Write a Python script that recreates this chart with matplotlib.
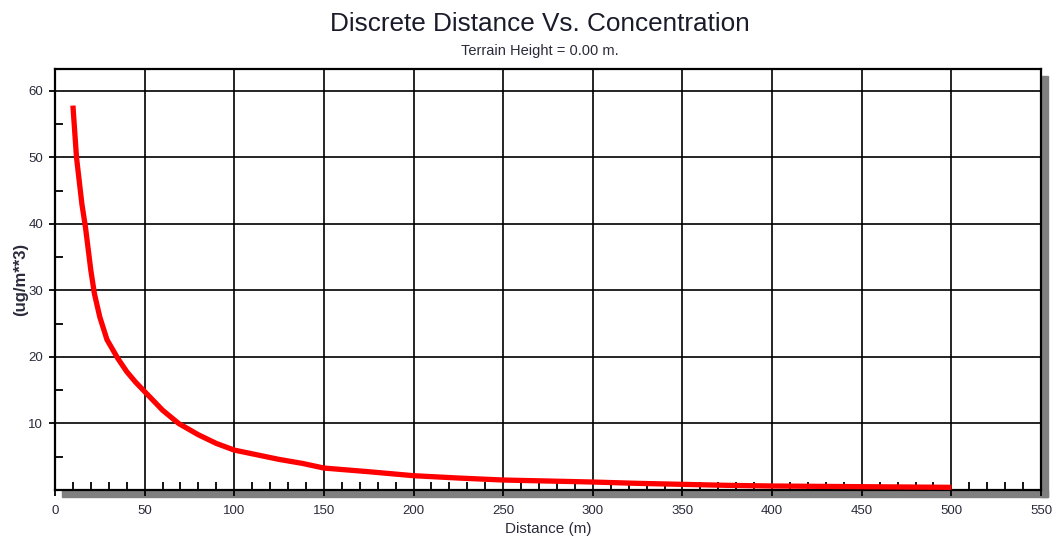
import matplotlib
matplotlib.use("Agg")
import matplotlib.pyplot as plt
from matplotlib.patches import Rectangle
from matplotlib.ticker import MultipleLocator

distance = [10, 12, 15, 17, 20, 22, 25, 29, 35, 40, 45, 50, 60, 69, 80, 90, 100,
            125, 138, 150, 175, 200, 225, 250, 275, 300, 325, 350, 375, 400,
            425, 450, 475, 500]
conc = [57.8, 50.0, 43.0, 39.5, 33.0, 29.5, 26.0, 22.6, 19.8, 17.8, 16.2, 14.8,
        12.0, 10.0, 8.3, 7.0, 6.0, 4.6, 4.0, 3.3, 2.75, 2.15, 1.8, 1.5, 1.35,
        1.2, 1.0, 0.85, 0.7, 0.6, 0.55, 0.5, 0.45, 0.4]
x_ticks = list(range(0, 551, 50))
y_ticks = [10, 20, 30, 40, 50, 60]

W, H = 1054, 538
plt.rcParams['font.family'] = ['Liberation Sans', 'DejaVu Sans']
fig = plt.figure(figsize=(W / 100, H / 100), dpi=100)
fig.patch.set_facecolor('white')

L, R, T, B = 55, 1041, 69, 490
ax = fig.add_axes([L / W, 1 - B / H, (R - L) / W, (B - T) / H])

# drop shadow
shade = '#7f7f7f'
fig.add_artist(Rectangle((62 / W, 1 - 497 / H), (1048 - 62) / W, 7 / H,
                         transform=fig.transFigure, color=shade, zorder=0))
fig.add_artist(Rectangle((R / W, 1 - 497 / H), 7 / W, (497 - 76) / H,
                         transform=fig.transFigure, color=shade, zorder=0))

ax.plot(distance, conc, color='#ff0000', lw=3.8, solid_capstyle='butt', zorder=3)

ax.set_xlim(0, 550)
ax.set_ylim(0, 63.3)
ax.set_xticks(x_ticks)
ax.set_yticks(y_ticks)
ax.xaxis.set_minor_locator(MultipleLocator(10))
ax.yaxis.set_minor_locator(MultipleLocator(5))
ax.grid(True, which='major', color='black', lw=1.2)
ax.set_axisbelow(False)
for s in ax.spines.values():
    s.set_color('black')
    s.set_linewidth(1.6)

lab_col = '#2a2a3a'
ax.tick_params(axis='both', which='major', direction='out', length=4.5, width=1.3,
               labelsize=9.5, labelcolor=lab_col)
ax.tick_params(axis='x', which='major', pad=6)
ax.tick_params(axis='y', which='major', pad=4)
ax.tick_params(axis='both', which='minor', direction='in', length=5.5, width=1.3)

ax.set_xlabel('Distance (m)', fontsize=11, color=lab_col)
ax.xaxis.set_label_coords(0.5, -(522 - B) / (B - T))
ax.set_ylabel('(ug/m**3)', fontsize=12, fontweight='bold', color=lab_col)
ax.yaxis.set_label_coords(-(L - 28) / (R - L), 0.5)

fig.text(540 / W, 1 - 24 / H, 'Discrete Distance Vs. Concentration',
         ha='center', va='center', fontsize=18.8, color='#1a1a2a')
fig.text(540 / W, 1 - 51 / H, 'Terrain Height = 0.00 m.',
         ha='center', va='center', fontsize=10.5, color='#2a2a3a')

fig.savefig('out.png', dpi=100, facecolor='white')
